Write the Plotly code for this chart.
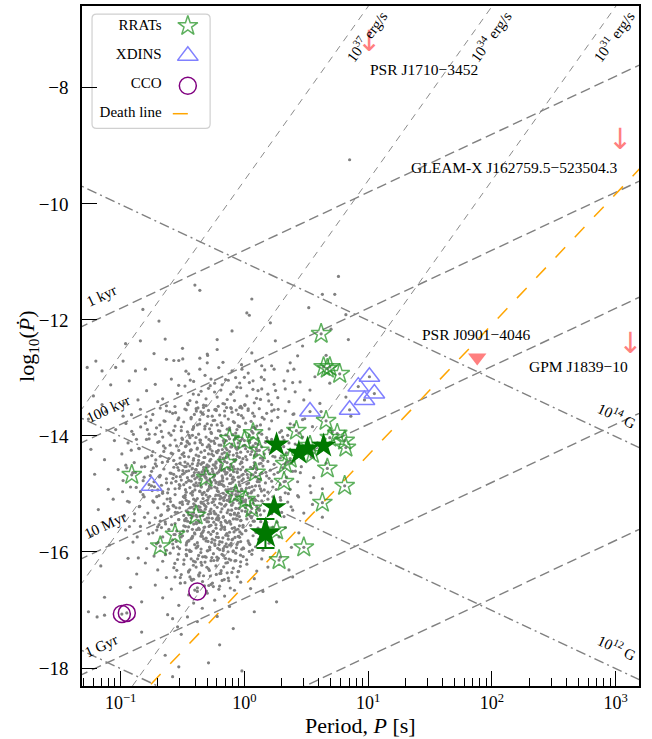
import numpy as np
import plotly.graph_objects as go

# ---------------------------------------------------------------
# Data: log10 P [s] and log10 Pdot
# ---------------------------------------------------------------
LOGP_RANGE = [-1.312, 3.188]
LOGPDOT_RANGE = [-18.31, -6.59]

# ATNF catalogue pulsars (log10 P, log10 Pdot)
atnf_points = [
    # sparse, high Pdot
    (0.85, -9.24), (-0.40, -11.40), (-0.36, -11.49), (0.76, -11.25), (0.63, -11.56), (0.73, -11.56),
    (0.06, -11.64), (0.52, -11.79), (0.02, -11.88), (0.04, -11.92), (0.82, -11.91), (0.21, -12.05),
    (-0.10, -12.19), (0.70, -12.16), (-0.22, -12.34), (0.25, -12.36), (0.84, -12.34), (0.47, -12.45),
    (0.43, -12.62), (0.06, -12.57), (0.37, -12.74), (0.14, -12.79), (0.22, -12.79), (0.24, -12.85),
    (0.40, -12.85), (0.35, -12.88), (-0.02, -12.85), (0.09, -12.71), (-0.22, -12.51), (-0.10, -12.88),
    (-0.82, -11.82), (-0.69, -12.02), (-0.84, -12.36), (-0.64, -12.33), (-0.96, -12.41), (-0.73, -12.58),
    (-0.50, -12.49), (-1.20, -12.71), (-0.98, -12.71), (-0.63, -12.68), (-0.57, -12.70), (-0.53, -12.70),
    (-0.36, -12.66), (-0.30, -12.59), (-0.30, -12.74), (-1.27, -12.82), (-1.04, -12.82), (-0.88, -12.88),
    (-0.80, -12.85), (-0.36, -12.85), (-1.15, -12.88), (0.57, -12.98), (0.66, -12.61), (-0.45, -12.93),
    # -13 .. -13.5
    (0.00, -12.99), (0.24, -13.11), (0.32, -13.05), (0.39, -13.08), (0.33, -13.19), (0.14, -13.19),
    (-0.03, -13.17), (0.04, -13.08),
    (-1.22, -13.31), (-1.08, -13.12), (-1.15, -13.46), (-0.93, -13.05), (-0.86, -13.38), (-0.79, -13.22),
    (-0.97, -13.44), (-0.72, -13.11), (-0.66, -13.36), (-0.59, -13.02), (-0.54, -13.27), (-0.63, -13.48),
    (-0.70, -13.41), (-0.48, -13.14), (-0.44, -13.39), (-0.41, -13.06), (-0.37, -13.29), (-0.33, -13.47),
    (-0.29, -13.18), (-0.27, -13.02), (-0.35, -13.23), (-0.46, -13.44), (-0.31, -13.36), (-0.24, -13.09),
    (-0.22, -13.33), (-0.19, -13.21), (-0.16, -13.45), (-0.13, -13.04), (-0.11, -13.28), (-0.08, -13.39),
    (-0.06, -13.16), (-0.03, -13.49), (-0.18, -13.12), (-0.09, -13.24), (0.02, -13.31), (0.08, -13.43),
    (0.11, -13.22), (0.13, -13.37), (0.16, -13.03), (0.19, -13.28), (0.22, -13.46), (0.07, -13.05),
    (0.27, -13.34), (0.36, -13.41), (0.41, -13.24), (0.45, -13.07), (0.48, -13.38), (0.53, -13.21),
    (0.61, -13.44), (0.69, -13.09), (0.82, -13.33),
    # -13.5 .. -14
    (-1.26, -13.71), (-1.12, -13.58), (-1.04, -13.89), (-0.98, -13.66), (-0.91, -13.92), (-0.84, -13.54),
    (-0.80, -13.78), (-0.77, -13.97), (-0.74, -13.63), (-0.71, -13.86), (-0.68, -13.52), (-0.65, -13.74),
    (-0.61, -13.95), (-0.58, -13.61), (-0.56, -13.83), (-0.53, -13.69), (-0.51, -13.91), (-0.63, -13.57),
    (-0.49, -13.76), (-0.47, -13.55), (-0.46, -13.93), (-0.43, -13.68), (-0.41, -13.84), (-0.39, -13.53),
    (-0.37, -13.97), (-0.36, -13.72), (-0.34, -13.61), (-0.32, -13.88), (-0.30, -13.79), (-0.29, -13.56),
    (-0.27, -13.94), (-0.26, -13.66), (-0.42, -13.99), (-0.38, -13.81), (-0.33, -13.51), (-0.24, -13.73),
    (-0.23, -13.54), (-0.21, -13.91), (-0.20, -13.64), (-0.18, -13.82), (-0.16, -13.57), (-0.15, -13.98),
    (-0.13, -13.71), (-0.12, -13.86), (-0.10, -13.59), (-0.08, -13.77), (-0.07, -13.95), (-0.05, -13.63),
    (-0.04, -13.84), (-0.02, -13.52), (-0.01, -13.69), (-0.19, -13.99), (-0.11, -13.51), (-0.06, -13.89),
    (-0.22, -13.81), (0.01, -13.78), (0.03, -13.56), (0.06, -13.92), (0.08, -13.66), (0.10, -13.83),
    (0.12, -13.53), (0.14, -13.97), (0.16, -13.71), (0.18, -13.61), (0.20, -13.88), (0.22, -13.74),
    (0.24, -13.55), (0.04, -13.99), (0.13, -13.81), (0.27, -13.68), (0.30, -13.91), (0.33, -13.57),
    (0.37, -13.79), (0.40, -13.62), (0.44, -13.95), (0.47, -13.72), (0.35, -13.99), (0.55, -13.84),
    (0.62, -13.58), (0.71, -13.93), (0.86, -13.66),
    # -14 .. -14.5
    (-1.24, -14.23), (-1.13, -14.41), (-1.05, -14.08), (-0.99, -14.31), (-0.94, -14.12), (-0.89, -14.46),
    (-0.85, -14.22), (-0.80, -14.38), (-0.77, -14.05), (-0.74, -14.27), (-0.72, -14.48), (-0.70, -14.11),
    (-0.68, -14.35), (-0.66, -14.02), (-0.64, -14.21), (-0.62, -14.44), (-0.60, -14.16), (-0.58, -14.31),
    (-0.56, -14.07), (-0.55, -14.49), (-0.53, -14.25), (-0.52, -14.38), (-0.51, -14.13), (-0.57, -14.42),
    (-0.50, -14.06), (-0.49, -14.29), (-0.48, -14.45), (-0.47, -14.17), (-0.45, -14.36), (-0.44, -14.03),
    (-0.43, -14.24), (-0.42, -14.48), (-0.40, -14.12), (-0.39, -14.33), (-0.38, -14.21), (-0.37, -14.42),
    (-0.36, -14.07), (-0.35, -14.28), (-0.34, -14.15), (-0.33, -14.46), (-0.32, -14.37), (-0.31, -14.02),
    (-0.30, -14.19), (-0.29, -14.31), (-0.28, -14.43), (-0.27, -14.09), (-0.26, -14.26), (-0.41, -14.39),
    (-0.46, -14.11), (-0.35, -14.49), (-0.28, -14.18), (-0.25, -14.34), (-0.24, -14.13), (-0.23, -14.47),
    (-0.22, -14.04), (-0.21, -14.25), (-0.20, -14.39), (-0.19, -14.16), (-0.18, -14.31), (-0.17, -14.08),
    (-0.16, -14.44), (-0.15, -14.21), (-0.14, -14.36), (-0.13, -14.01), (-0.12, -14.27), (-0.11, -14.49),
    (-0.10, -14.14), (-0.09, -14.33), (-0.08, -14.06), (-0.07, -14.41), (-0.06, -14.23), (-0.05, -14.12),
    (-0.04, -14.37), (-0.03, -14.28), (-0.02, -14.46), (-0.01, -14.17), (-0.14, -14.24), (-0.19, -14.45),
    (-0.07, -14.02), (-0.22, -14.29), (-0.11, -14.19), (-0.03, -14.08), (-0.17, -14.38), (0.01, -14.22),
    (0.02, -14.41), (0.04, -14.09), (0.05, -14.32), (0.07, -14.17), (0.08, -14.46), (0.10, -14.26),
    (0.11, -14.04), (0.13, -14.38), (0.14, -14.19), (0.16, -14.31), (0.17, -14.11), (0.19, -14.44),
    (0.20, -14.24), (0.22, -14.06), (0.23, -14.35), (0.24, -14.49), (0.06, -14.27), (0.12, -14.48),
    (0.18, -14.03), (0.09, -14.13), (0.15, -14.42), (0.26, -14.21), (0.29, -14.38), (0.32, -14.07),
    (0.34, -14.29), (0.38, -14.46), (0.41, -14.14), (0.44, -14.33), (0.47, -14.02), (0.36, -14.12),
    (0.54, -14.36), (0.59, -14.12), (0.66, -14.47),
    # -14.5 .. -15
    (-1.21, -14.66), (-1.10, -14.92), (-1.02, -14.58), (-0.98, -14.77), (-0.95, -14.55), (-0.92, -14.88),
    (-0.88, -14.63), (-0.84, -14.96), (-0.81, -14.71), (-0.77, -14.84), (-0.75, -14.61), (-0.73, -14.79),
    (-0.71, -14.52), (-0.70, -14.93), (-0.68, -14.68), (-0.67, -14.85), (-0.65, -14.57), (-0.63, -14.74),
    (-0.62, -14.98), (-0.60, -14.64), (-0.59, -14.81), (-0.57, -14.54), (-0.56, -14.91), (-0.55, -14.70),
    (-0.53, -14.59), (-0.52, -14.86), (-0.51, -14.76), (-0.66, -14.96), (-0.50, -14.66), (-0.49, -14.84),
    (-0.48, -14.53), (-0.47, -14.97), (-0.46, -14.72), (-0.45, -14.60), (-0.44, -14.89), (-0.43, -14.78),
    (-0.42, -14.56), (-0.41, -14.68), (-0.40, -14.93), (-0.39, -14.81), (-0.38, -14.51), (-0.37, -14.63),
    (-0.36, -14.75), (-0.35, -14.87), (-0.34, -14.99), (-0.33, -14.58), (-0.32, -14.70), (-0.31, -14.83),
    (-0.30, -14.54), (-0.29, -14.92), (-0.28, -14.65), (-0.27, -14.79), (-0.26, -14.57), (-0.44, -14.52),
    (-0.40, -14.74), (-0.36, -14.95), (-0.32, -14.61), (-0.28, -14.86), (-0.47, -14.80), (-0.42, -14.97),
    (-0.34, -14.67), (-0.30, -14.77), (-0.25, -14.71), (-0.24, -14.88), (-0.23, -14.55), (-0.22, -14.64),
    (-0.21, -14.96), (-0.20, -14.79), (-0.19, -14.52), (-0.18, -14.69), (-0.17, -14.85), (-0.16, -14.61),
    (-0.15, -14.93), (-0.14, -14.74), (-0.13, -14.56), (-0.12, -14.82), (-0.11, -14.67), (-0.10, -14.98),
    (-0.09, -14.53), (-0.08, -14.76), (-0.07, -14.89), (-0.06, -14.62), (-0.05, -14.71), (-0.04, -14.84),
    (-0.03, -14.58), (-0.02, -14.94), (-0.01, -14.66), (-0.23, -14.81), (-0.20, -14.59), (-0.17, -14.99),
    (-0.14, -14.63), (-0.11, -14.91), (-0.08, -14.57), (-0.05, -14.97), (-0.02, -14.77), (-0.18, -14.77),
    (-0.09, -14.71), (-0.24, -14.51), (0.01, -14.61), (0.02, -14.83), (0.03, -14.72), (0.05, -14.54),
    (0.06, -14.96), (0.07, -14.67), (0.09, -14.86), (0.10, -14.58), (0.11, -14.75), (0.13, -14.91),
    (0.14, -14.64), (0.15, -14.52), (0.17, -14.81), (0.18, -14.69), (0.19, -14.97), (0.21, -14.59),
    (0.22, -14.78), (0.23, -14.88), (0.24, -14.66), (0.04, -14.89), (0.08, -14.51), (0.12, -14.79),
    (0.16, -14.93), (0.20, -14.73), (0.03, -14.99), (0.27, -14.63), (0.29, -14.84), (0.31, -14.55),
    (0.34, -14.71), (0.37, -14.92), (0.39, -14.61), (0.43, -14.79), (0.46, -14.53), (0.33, -14.98),
    (0.56, -14.72), (0.63, -14.91), (0.53, -14.86),
    # -15 .. -15.5
    (-1.18, -15.27), (-1.06, -15.09), (-0.97, -15.38), (-0.93, -15.14), (-0.89, -15.46), (-0.85, -15.22),
    (-0.81, -15.05), (-0.78, -15.33), (-0.74, -15.12), (-0.72, -15.41), (-0.70, -15.24), (-0.69, -15.03),
    (-0.67, -15.36), (-0.65, -15.17), (-0.64, -15.48), (-0.62, -15.28), (-0.60, -15.08), (-0.59, -15.39),
    (-0.57, -15.21), (-0.56, -15.01), (-0.54, -15.32), (-0.53, -15.44), (-0.52, -15.15), (-0.61, -15.26),
    (-0.68, -15.47), (-0.50, -15.18), (-0.49, -15.37), (-0.48, -15.06), (-0.47, -15.29), (-0.46, -15.47),
    (-0.45, -15.13), (-0.44, -15.24), (-0.43, -15.41), (-0.42, -15.02), (-0.41, -15.33), (-0.40, -15.19),
    (-0.39, -15.49), (-0.38, -15.08), (-0.37, -15.27), (-0.36, -15.38), (-0.35, -15.14), (-0.34, -15.01),
    (-0.33, -15.31), (-0.32, -15.44), (-0.31, -15.22), (-0.30, -15.11), (-0.29, -15.35), (-0.28, -15.04),
    (-0.27, -15.26), (-0.26, -15.42), (-0.45, -15.36), (-0.41, -15.09), (-0.37, -15.46), (-0.33, -15.17),
    (-0.29, -15.48), (-0.47, -15.11), (-0.35, -15.29), (-0.25, -15.13), (-0.24, -15.34), (-0.23, -15.02),
    (-0.22, -15.23), (-0.21, -15.45), (-0.20, -15.16), (-0.19, -15.31), (-0.18, -15.07), (-0.17, -15.39),
    (-0.16, -15.21), (-0.15, -15.48), (-0.14, -15.11), (-0.13, -15.28), (-0.12, -15.04), (-0.11, -15.36),
    (-0.10, -15.19), (-0.09, -15.43), (-0.08, -15.09), (-0.07, -15.25), (-0.06, -15.37), (-0.05, -15.03),
    (-0.04, -15.16), (-0.03, -15.46), (-0.02, -15.29), (-0.01, -15.12), (-0.22, -15.41), (-0.19, -15.49),
    (-0.15, -15.02), (-0.12, -15.47), (-0.08, -15.33), (-0.04, -15.39), (-0.24, -15.19), (-0.10, -15.01),
    (-0.02, -15.06), (0.01, -15.24), (0.02, -15.43), (0.04, -15.07), (0.05, -15.31), (0.07, -15.16),
    (0.08, -15.47), (0.10, -15.22), (0.11, -15.03), (0.13, -15.36), (0.14, -15.12), (0.16, -15.29),
    (0.17, -15.44), (0.19, -15.09), (0.20, -15.19), (0.22, -15.34), (0.23, -15.05), (0.06, -15.39),
    (0.12, -15.26), (0.18, -15.49), (0.09, -15.11), (0.26, -15.21), (0.29, -15.06), (0.32, -15.39),
    (0.35, -15.14), (0.39, -15.28), (0.43, -15.03), (0.48, -15.33), (0.55, -15.18), (0.63, -15.40),
    # -15.5 .. -16
    (-1.23, -15.71), (-1.09, -15.88), (-0.96, -15.62), (-0.90, -15.83), (-0.84, -15.56), (-0.79, -15.94),
    (-0.74, -15.67), (-0.71, -15.86), (-0.69, -15.53), (-0.66, -15.74), (-0.63, -15.97), (-0.61, -15.61),
    (-0.58, -15.79), (-0.56, -15.51), (-0.54, -15.91), (-0.52, -15.68), (-0.67, -15.58), (-0.50, -15.72),
    (-0.49, -15.55), (-0.47, -15.88), (-0.46, -15.64), (-0.44, -15.99), (-0.43, -15.77), (-0.41, -15.52),
    (-0.40, -15.69), (-0.38, -15.84), (-0.37, -15.59), (-0.35, -15.95), (-0.34, -15.73), (-0.32, -15.57),
    (-0.31, -15.81), (-0.29, -15.66), (-0.28, -15.92), (-0.27, -15.54), (-0.26, -15.78), (-0.45, -15.81),
    (-0.39, -15.93), (-0.33, -15.63), (-0.30, -15.98), (-0.42, -15.61), (-0.25, -15.64), (-0.24, -15.86),
    (-0.23, -15.53), (-0.21, -15.75), (-0.20, -15.96), (-0.19, -15.61), (-0.18, -15.83), (-0.16, -15.57),
    (-0.15, -15.71), (-0.14, -15.91), (-0.12, -15.66), (-0.11, -15.52), (-0.10, -15.79), (-0.09, -15.98),
    (-0.07, -15.62), (-0.06, -15.87), (-0.05, -15.73), (-0.04, -15.55), (-0.02, -15.69), (-0.01, -15.93),
    (-0.22, -15.68), (-0.17, -15.94), (-0.13, -15.78), (-0.08, -15.58), (-0.03, -15.82), (-0.12, -15.88),
    (0.01, -15.63), (0.03, -15.81), (0.05, -15.54), (0.07, -15.72), (0.09, -15.91), (0.11, -15.59),
    (0.13, -15.76), (0.15, -15.97), (0.18, -15.66), (0.20, -15.85), (0.23, -15.57), (0.04, -15.99),
    (0.16, -15.52), (0.28, -15.74), (0.33, -15.58), (0.38, -15.92), (0.44, -15.67),
    # -16 .. -16.5
    (-1.16, -16.24), (-0.94, -16.11), (-0.87, -16.38), (-0.80, -16.19), (-0.73, -16.07), (-0.70, -16.31),
    (-0.66, -16.16), (-0.63, -16.44), (-0.60, -16.02), (-0.57, -16.27), (-0.54, -16.13), (-0.51, -16.39),
    (-0.49, -16.21), (-0.47, -16.04), (-0.45, -16.33), (-0.43, -16.12), (-0.41, -16.47), (-0.39, -16.26),
    (-0.37, -16.06), (-0.35, -16.18), (-0.33, -16.41), (-0.31, -16.09), (-0.29, -16.29), (-0.27, -16.15),
    (-0.44, -16.43), (-0.36, -16.36), (-0.25, -16.03), (-0.23, -16.24), (-0.21, -16.11), (-0.19, -16.37),
    (-0.17, -16.06), (-0.15, -16.19), (-0.13, -16.45), (-0.11, -16.14), (-0.09, -16.28), (-0.07, -16.02),
    (-0.05, -16.34), (-0.03, -16.17), (-0.18, -16.49), (-0.01, -16.08), (0.02, -16.21), (0.06, -16.04),
    (0.10, -16.33), (0.14, -16.12), (0.19, -16.26), (0.08, -16.46), (0.29, -16.09), (0.36, -16.31),
    (0.39, -16.43),
    # -16.5 .. -17
    (-1.13, -16.78), (-0.92, -16.61), (-0.83, -16.86), (-0.72, -16.57), (-0.66, -16.79), (-0.59, -16.64),
    (-0.53, -16.92), (-0.48, -16.53), (-0.45, -16.74), (-0.41, -16.88), (-0.38, -16.62), (-0.34, -16.97),
    (-0.30, -16.71), (-0.27, -16.56), (-0.24, -16.83), (-0.20, -16.59), (-0.16, -16.76), (-0.12, -16.94),
    (-0.08, -16.66), (-0.03, -16.52), (0.05, -16.63), (0.15, -16.68), (0.26, -16.86),
    # below -17
    (-1.26, -17.03), (-1.19, -17.12), (-1.13, -17.09), (-0.58, -17.15), (-0.54, -17.29), (-0.83, -17.38),
    (-0.46, -17.12), (-0.38, -17.20), (-0.62, -17.08), (-0.51, -17.42), (-0.22, -17.11), (-0.09, -17.32),
    (0.08, -17.03), (-0.64, -17.78), (-0.53, -17.98), (-0.58, -18.15), (-0.20, -17.60), (-0.29, -17.91),
    (-0.02, -18.05),
    # dense core
    (-0.412, -13.862), (-0.287, -14.153), (-0.198, -13.917), (-0.354, -14.071), (-0.093, -13.978),
    (0.043, -14.112), (-0.476, -14.184), (-0.233, -14.036), (-0.139, -13.884), (0.117, -13.947),
    (-0.318, -13.831), (-0.052, -14.193), (-0.571, -13.908), (-0.382, -14.226), (0.186, -14.081),
    (-0.164, -14.118), (-0.266, -13.957), (0.072, -13.853), (-0.447, -13.992), (-0.017, -14.047),
    (-0.503, -14.317), (-0.341, -14.462), (-0.227, -14.271), (-0.118, -14.538), (0.011, -14.356),
    (-0.395, -14.579), (-0.272, -14.404), (-0.061, -14.297), (0.134, -14.471), (-0.183, -14.589),
    (-0.432, -14.243), (-0.307, -14.527), (0.067, -14.563), (-0.148, -14.372), (-0.024, -14.446),
    (-0.611, -14.392), (-0.369, -14.349), (0.208, -14.286), (-0.252, -14.498), (-0.087, -14.412),
    (-0.539, -14.544), (0.098, -14.318), (-0.198, -14.427), (-0.458, -14.481),
    (-0.487, -14.643), (-0.362, -14.812), (-0.241, -14.687), (-0.131, -14.924), (-0.009, -14.741),
    (0.121, -14.862), (-0.418, -14.958), (-0.296, -14.603), (-0.174, -14.776), (-0.057, -14.631),
    (0.054, -14.983), (-0.526, -14.838), (-0.383, -14.712), (-0.268, -14.896), (-0.152, -14.658),
    (-0.036, -14.857), (0.089, -14.704), (-0.447, -14.769), (-0.325, -14.974), (-0.207, -14.618),
    (-0.094, -14.793), (0.173, -14.627), (-0.577, -14.731), (-0.348, -14.882), (-0.219, -14.943),
    (-0.113, -14.682), (0.016, -14.901), (-0.469, -14.612), (-0.283, -14.761), (-0.069, -14.949),
    (-0.399, -14.861), (-0.186, -14.835), (0.138, -14.951), (-0.614, -14.917), (-0.247, -14.652),
    (-0.021, -14.678),
    (-0.493, -15.047), (-0.371, -15.213), (-0.253, -15.087), (-0.139, -15.322), (-0.017, -15.141),
    (0.108, -15.263), (-0.428, -15.357), (-0.309, -15.018), (-0.186, -15.176), (-0.066, -15.034),
    (0.046, -15.381), (-0.552, -15.238), (-0.393, -15.112), (-0.278, -15.296), (-0.161, -15.059),
    (-0.043, -15.255), (0.079, -15.107), (-0.457, -15.169), (-0.336, -15.374), (-0.213, -15.022),
    (-0.104, -15.193), (0.162, -15.028), (-0.597, -15.131), (-0.354, -15.284), (-0.232, -15.343),
    (-0.121, -15.082), (0.009, -15.302), (-0.478, -15.021), (-0.293, -15.161), (-0.082, -15.349),
    (-0.407, -15.261),
    (-0.482, -15.447), (-0.364, -15.611), (-0.247, -15.487), (-0.132, -15.721), (-0.011, -15.541),
    (0.094, -15.663), (-0.421, -15.757), (-0.302, -15.418), (-0.179, -15.576), (-0.058, -15.434),
    (-0.547, -15.638), (-0.387, -15.512), (-0.271, -15.696), (-0.155, -15.459), (-0.037, -15.655),
    (-0.451, -15.569), (-0.329, -15.774), (-0.206, -15.422), (-0.098, -15.593), (-0.588, -15.531),
    (-0.347, -15.684), (-0.226, -15.743), (-0.117, -15.482), (-0.471, -15.421), (-0.286, -15.561),
    (-0.076, -15.749), (0.132, -15.478),
    (-0.467, -15.847), (-0.352, -16.011), (-0.238, -15.887), (-0.124, -16.121), (-0.006, -15.941),
    (-0.412, -16.157), (-0.294, -15.818), (-0.171, -15.976), (-0.051, -15.834), (-0.532, -16.038),
    (-0.379, -15.912), (-0.263, -16.096), (-0.147, -15.859), (-0.031, -16.055), (-0.443, -15.969),
    (-0.318, -16.174), (-0.199, -15.822), (-0.091, -15.993), (-0.574, -15.931), (-0.337, -16.084),
    (-0.219, -16.143), (-0.109, -15.882), (-0.461, -15.821), (-0.279, -15.961), (-0.069, -16.149),
    (0.044, -15.873),
    (-0.452, -16.347), (-0.338, -16.511), (-0.227, -16.387), (-0.114, -16.621), (-0.401, -16.657),
    (-0.283, -16.318), (-0.163, -16.476), (-0.047, -16.334), (-0.517, -16.538), (-0.367, -16.412),
    (-0.251, -16.596), (-0.139, -16.359), (-0.429, -16.469), (-0.307, -16.674), (-0.188, -16.322),
    (-0.561, -16.431), (-0.323, -16.584), (-0.206, -16.643),
    # more of the core
    (-0.463, -14.091), (-0.327, -14.372), (-0.205, -14.158), (-0.078, -14.437), (0.056, -14.205),
    (-0.519, -14.468), (-0.391, -14.027), (-0.264, -14.314), (-0.146, -14.083), (-0.012, -14.392),
    (0.112, -14.147), (-0.437, -14.256), (-0.301, -14.498), (-0.178, -14.234), (-0.049, -14.019),
    (0.081, -14.341), (-0.548, -14.172), (-0.412, -14.419), (-0.287, -14.061), (-0.161, -14.287),
    (-0.034, -14.481), (0.097, -14.223), (-0.486, -14.354), (-0.356, -14.113), (-0.229, -14.445),
    (-0.102, -14.188), (0.027, -14.269), (-0.591, -14.297), (-0.445, -14.138), (-0.321, -14.253),
    (-0.196, -14.364), (-0.069, -14.207), (0.148, -14.389), (-0.373, -14.471), (-0.248, -14.089),
    (-0.124, -14.326), (0.005, -14.163), (-0.504, -14.038), (-0.277, -14.227), (-0.057, -14.352),
    (-0.471, -14.527), (-0.352, -14.684), (-0.231, -14.552), (-0.109, -14.817), (0.013, -14.596),
    (0.129, -14.742), (-0.526, -14.903), (-0.404, -14.631), (-0.283, -14.879), (-0.162, -14.574),
    (-0.041, -14.708), (0.078, -14.933), (-0.451, -14.769), (-0.329, -14.541), (-0.207, -14.836),
    (-0.087, -14.617), (0.034, -14.812), (-0.571, -14.662), (-0.433, -14.988), (-0.311, -14.727),
    (-0.189, -14.508), (-0.067, -14.893), (0.053, -14.669), (-0.497, -14.598), (-0.378, -14.856),
    (-0.256, -14.611), (-0.134, -14.968), (-0.013, -14.537), (0.104, -14.786), (-0.422, -14.692),
    (-0.298, -14.943), (-0.176, -14.719), (-0.054, -14.571), (-0.553, -14.782), (-0.389, -14.581),
    (-0.267, -14.799), (-0.145, -14.647), (-0.023, -14.918), (0.091, -14.552), (-0.476, -14.927),
    (-0.343, -14.621), (-0.222, -14.901), (-0.098, -14.742), (0.023, -14.663), (-0.409, -14.841),
    (-0.287, -14.522), (-0.165, -14.867), (-0.044, -14.796), (-0.518, -14.703), (-0.361, -14.957),
    (-0.241, -14.763), (-0.118, -14.589), (0.062, -14.873), (-0.316, -14.662), (-0.193, -14.551),
    (-0.482, -15.064), (-0.358, -15.227), (-0.236, -15.089), (-0.114, -15.351), (0.008, -15.133),
    (0.121, -15.282), (-0.531, -15.442), (-0.409, -15.171), (-0.288, -15.413), (-0.166, -15.112),
    (-0.046, -15.248), (0.071, -15.469), (-0.457, -15.307), (-0.334, -15.079), (-0.212, -15.372),
    (-0.091, -15.154), (0.029, -15.348), (-0.576, -15.198), (-0.438, -15.489), (-0.316, -15.263),
    (-0.194, -15.041), (-0.071, -15.428), (0.048, -15.207), (-0.502, -15.136), (-0.383, -15.394),
    (-0.261, -15.147), (-0.139, -15.496), (-0.018, -15.073), (0.097, -15.322), (-0.426, -15.229),
    (-0.302, -15.478), (-0.181, -15.256), (-0.059, -15.109), (-0.558, -15.317), (-0.394, -15.118),
    (-0.272, -15.336), (-0.149, -15.183), (-0.028, -15.453), (0.084, -15.088), (-0.481, -15.461),
    (-0.348, -15.157), (-0.227, -15.439), (-0.103, -15.279), (0.018, -15.196), (-0.414, -15.378),
    (-0.292, -15.058), (-0.171, -15.402), (-0.049, -15.331), (-0.523, -15.241), (-0.366, -15.492),
    (-0.246, -15.301), (-0.123, -15.127), (0.057, -15.412), (-0.321, -15.196), (-0.198, -15.087),
    (-0.476, -15.563), (-0.351, -15.728), (-0.229, -15.589), (-0.107, -15.852), (0.012, -15.633),
    (0.115, -15.781), (-0.524, -15.941), (-0.403, -15.671), (-0.281, -15.914), (-0.159, -15.612),
    (-0.039, -15.748), (0.064, -15.967), (-0.449, -15.806), (-0.327, -15.578), (-0.205, -15.873),
    (-0.084, -15.654), (0.036, -15.847), (-0.569, -15.699), (-0.431, -15.988), (-0.309, -15.762),
    (-0.187, -15.541), (-0.064, -15.927), (-0.495, -15.636), (-0.376, -15.894), (-0.254, -15.647),
    (-0.132, -15.996), (-0.011, -15.573), (-0.419, -15.729), (-0.295, -15.979), (-0.174, -15.756),
    (-0.052, -15.608), (-0.551, -15.819), (-0.386, -15.617), (-0.265, -15.834), (-0.142, -15.683),
    (-0.021, -15.952), (-0.469, -15.962), (-0.337, -15.659), (-0.215, -15.937), (-0.094, -15.778),
    (-0.402, -15.873), (-0.281, -15.551), (-0.158, -15.902), (-0.511, -15.742), (-0.239, -15.798),
    (-0.467, -16.063), (-0.344, -16.228), (-0.222, -16.089), (-0.101, -16.352), (0.018, -16.134),
    (-0.518, -16.441), (-0.396, -16.171), (-0.275, -16.414), (-0.153, -16.112), (-0.033, -16.248),
    (-0.441, -16.307), (-0.319, -16.079), (-0.198, -16.372), (-0.077, -16.154), (-0.562, -16.198),
    (-0.424, -16.489), (-0.303, -16.263), (-0.181, -16.041), (-0.058, -16.428), (-0.488, -16.136),
    (-0.369, -16.394), (-0.247, -16.147), (-0.126, -16.496), (-0.412, -16.229), (-0.288, -16.578),
    (-0.167, -16.256), (-0.546, -16.317), (-0.378, -16.118), (-0.258, -16.536), (-0.136, -16.183),
    (-0.455, -13.463), (-0.332, -13.627), (-0.211, -13.489), (-0.089, -13.752), (0.031, -13.533),
    (0.144, -13.681), (-0.509, -13.842), (-0.388, -13.571), (-0.266, -13.813), (-0.144, -13.512),
    (-0.024, -13.648), (0.088, -13.869), (-0.431, -13.706), (-0.309, -13.478), (-0.188, -13.773),
    (-0.066, -13.554), (0.054, -13.748), (-0.556, -13.599), (-0.418, -13.888), (-0.295, -13.662),
    (-0.173, -13.441), (-0.051, -13.827), (0.067, -13.607), (-0.481, -13.536), (-0.362, -13.794),
    (-0.239, -13.547), (-0.118, -13.896), (0.003, -13.473), (-0.404, -13.629), (-0.281, -13.878),
    (-0.159, -13.656), (-0.037, -13.508), (-0.537, -13.719), (-0.375, -13.517), (-0.252, -13.734),
    # left flank
    (-0.912, -13.634), (-0.853, -14.213), (-0.784, -13.891), (-0.736, -14.552), (-0.689, -14.097),
    (-0.642, -13.748), (-0.618, -15.214), (-0.874, -14.887), (-0.807, -15.402), (-0.761, -14.683),
    (-0.708, -15.047), (-0.663, -14.456), (-0.944, -15.126), (-0.831, -14.534), (-0.773, -15.688),
    (-0.721, -13.971), (-0.676, -15.373), (-0.629, -14.808), (-0.897, -13.972), (-0.819, -15.013),
    (-0.748, -14.338), (-0.701, -15.566), (-0.654, -14.172), (-0.958, -14.504), (-0.866, -15.741),
    (-0.791, -14.061), (-0.727, -14.876), (-0.683, -13.812), (-0.637, -15.518), (-0.591, -14.644),
    (-0.957, -13.784), (-0.902, -14.633), (-0.846, -15.214), (-0.793, -13.669), (-0.745, -14.941),
    (-0.697, -15.836), (-0.651, -14.267), (-0.603, -13.583), (-0.929, -15.561), (-0.872, -14.058),
    (-0.818, -14.771), (-0.766, -15.498), (-0.716, -14.413), (-0.671, -13.923), (-0.624, -15.087),
    (-0.579, -15.863), (-0.984, -14.962), (-0.887, -15.342), (-0.838, -13.845), (-0.781, -14.362),
    (-0.732, -15.142), (-0.686, -14.707), (-0.638, -16.047), (-0.593, -13.987), (-0.914, -14.246),
    (-0.857, -16.103), (-0.805, -14.528), (-0.756, -13.729), (-0.708, -15.623), (-0.661, -14.989),
    # right flank
    (0.273, -13.541), (0.318, -14.186), (0.364, -13.879), (0.412, -14.607), (0.257, -14.923),
    (0.301, -15.318), (0.346, -14.452), (0.393, -13.627), (0.438, -15.052), (0.286, -13.938),
    (0.331, -14.781), (0.377, -15.221), (0.423, -14.268), (0.264, -15.487), (0.309, -14.019),
    (0.355, -14.996), (0.401, -13.812), (0.452, -14.633), (0.247, -14.362), (0.293, -15.107),
    (0.512, -14.196), (0.487, -13.704), (0.537, -14.978),
    # upper middle
    (-0.531, -13.127), (-0.472, -12.884), (-0.386, -13.418), (-0.318, -12.956), (-0.241, -13.243),
    (-0.173, -12.732), (-0.106, -13.526), (-0.038, -13.088), (0.031, -12.917), (0.098, -13.352),
    (0.164, -12.863), (0.221, -13.571), (-0.561, -13.493), (-0.437, -13.038), (-0.352, -13.587),
    (-0.276, -13.134), (-0.207, -12.821), (-0.139, -13.372), (-0.071, -12.994), (0.004, -13.458),
    (0.069, -13.197), (0.137, -12.988), (0.197, -13.396), (-0.498, -12.673), (-0.413, -13.278),
    (-0.297, -12.613), (-0.227, -13.563), (-0.152, -13.031), (-0.023, -12.772), (0.252, -13.218),
]
atnf_logp = [p for p, _ in atnf_points]
atnf_logpdot = [d for _, d in atnf_points]

# RRATs (open stars)
rrat_logp = [-0.91, 0.62, 0.64, 0.67, 0.69, 0.77, 0.66, 0.42, 0.07, -0.12, 0.00, 0.75, 0.69, 0.81,
             0.82, 0.12, 0.53, 0.55, -0.14, 0.09, 0.37, 0.33, 0.67, -0.31, 0.32, 0.81, -0.07, 0.01,
             0.06, 0.63, -0.39, -0.56, -0.68, 0.26, 0.48, 0.28]
rrat_logpdot = [-14.67, -12.24, -12.81, -12.84, -12.81, -12.93, -13.74, -13.91, -13.95, -14.05, -14.08,
                -13.96, -14.03, -14.08, -14.20, -14.25, -14.17, -14.31, -14.46, -14.63, -14.39, -14.48,
                -14.56, -14.72, -14.79, -14.86, -15.01, -15.10, -15.25, -15.15, -15.37, -15.70, -15.90,
                -15.63, -15.92, -16.14]

# RRATs with new timing solutions (filled stars)
rrat_new_logp = [0.26, 0.44, 0.51, 0.64, 0.24]
rrat_new_logpdot = [-14.15, -14.29, -14.22, -14.17, -15.23]
rrat_big_logp = [0.17]
rrat_big_logpdot = [-15.68]
rrat_big_err = [0.25]

# XDINS
xdins_logp = [-0.75, 0.53, 0.85, 0.92, 1.01, 0.97, 1.05]
xdins_logpdot = [-14.86, -13.58, -13.55, -13.15, -12.98, -13.38, -13.27]

# Central compact objects
cco_logp = [-0.99, -0.95, -0.38]
cco_logpdot = [-17.07, -17.05, -16.68]

# Long-period radio transients with Pdot upper limits (name, log10 P, log10 Pdot)
lpt_limits = [("PSR J1710\u22123452", 1.008, -7.24),
              ("GLEAM-X J162759.5\u2212523504.3", 3.035, -8.93),
              ("GPM J1839\u221210", 3.118, -12.45)]
j0901 = ("PSR J0901\u22124046", 1.881, -12.65)

# Reference lines
AGE_YR = [1e3, 1e5, 1e7, 1e9, 1e11]
B_FIELD = [1e10, 1e12, 1e14]
EDOT = [1e31, 1e34, 1e37]
DEATH_SLOPE, DEATH_ICPT = 2.25, -16.58

YEAR = 3.156e7
I_MOM = 1e45

SERIF = "Liberation Serif"
GRAY = "#808080"
PINK = "#FF7F7F"
STAR_EDGE = "rgba(40,150,40,0.75)"

fig = go.Figure()
lp = np.array([-2.0, 4.0])


def add_line(y, color, width, dash):
    fig.add_trace(go.Scatter(x=10 ** lp, y=y, mode="lines", showlegend=False, hoverinfo="skip",
                             line=dict(color=color, width=width, dash=dash)))


for e in EDOT:
    add_line(np.log10(e / (4 * np.pi ** 2 * I_MOM)) + 3 * lp, "#8c8c8c", 1.0, "7px,6px")
for tau in AGE_YR:
    add_line(lp - np.log10(2 * tau * YEAR), GRAY, 1.4, "10px,5px")
for b in B_FIELD:
    add_line(2 * np.log10(b / 3.2e19) - lp, GRAY, 1.4, "10px,4px,2px,4px")
add_line(DEATH_SLOPE * lp + DEATH_ICPT, "#FFA500", 1.5, "14px,14px")

# catalogue dots (every object also appears in the catalogue)
all_p = atnf_logp + rrat_logp + xdins_logp + cco_logp
all_pd = atnf_logpdot + rrat_logpdot + xdins_logpdot + cco_logpdot
fig.add_trace(go.Scatter(x=10 ** np.array(all_p), y=all_pd, mode="markers", showlegend=False,
                         marker=dict(size=3.2, color=GRAY, line=dict(width=0))))

fig.add_trace(go.Scatter(x=10 ** np.array(xdins_logp), y=xdins_logpdot, mode="markers", showlegend=False,
                         marker=dict(symbol="triangle-up-open", size=18, color="#8080FF",
                                     line=dict(width=1.5))))
fig.add_trace(go.Scatter(x=10 ** np.array(cco_logp), y=cco_logpdot, mode="markers", showlegend=False,
                         marker=dict(symbol="circle-open", size=17, color="#800080", line=dict(width=1.5))))
fig.add_trace(go.Scatter(x=10 ** np.array(rrat_logp), y=rrat_logpdot, mode="markers", showlegend=False,
                         marker=dict(symbol="star-open", size=15, color=STAR_EDGE, line=dict(width=1.5))))
fig.add_trace(go.Scatter(x=10 ** np.array(rrat_new_logp), y=rrat_new_logpdot, mode="markers",
                         showlegend=False,
                         marker=dict(symbol="star", size=19, color="#007800", line=dict(width=0))))
fig.add_trace(go.Scatter(x=10 ** np.array(rrat_big_logp), y=rrat_big_logpdot, mode="markers",
                         showlegend=False,
                         error_y=dict(type="data", array=rrat_big_err, color="#007800", thickness=2, width=9),
                         marker=dict(symbol="star", size=24, color="#007800", line=dict(width=0))))
fig.add_trace(go.Scatter(x=[10 ** j0901[1]], y=[j0901[2]], mode="markers", showlegend=False,
                         marker=dict(symbol="triangle-down", size=16, color=PINK, line=dict(width=0))))

# upper-limit arrows
fig.add_trace(go.Scatter(x=[10 ** p for _, p, _ in lpt_limits], y=[d for _, _, d in lpt_limits],
                         mode="text", text=["\u2193"] * len(lpt_limits), showlegend=False,
                         textposition="middle center",
                         textfont=dict(family="DejaVu Sans", size=29, color=PINK)))

ann = []
# source names
name_pos = {"PSR J1710\u22123452": (1.453, -7.69),
            "GLEAM-X J162759.5\u2212523504.3": (2.184, -9.375),
            "GPM J1839\u221210": (2.70, -12.81),
            "PSR J0901\u22124046": (1.869, -12.26)}
for name, (x, y) in name_pos.items():
    ann.append(dict(x=x, y=y, xref="x", yref="y", text=name, showarrow=False,
                    font=dict(family=SERIF, size=15.5, color="black")))

# line labels
line_labels = [("1 kyr", -1.158, -11.59, -25), ("100 kyr", -1.10, -13.53, -25),
               ("10 Myr", -1.12, -15.54, -25), ("1 Gyr", -1.158, -17.62, -25),
               ("10<sup>14</sup> G", 3.012, -13.64, 25), ("10<sup>12</sup> G", 3.012, -17.64, 25),
               ("10<sup>37</sup> erg/s", 0.984, -7.107, -54), ("10<sup>34</sup> erg/s", 1.986, -7.107, -54),
               ("10<sup>31</sup> erg/s", 2.98, -7.107, -54)]
for txt, x, y, ang in line_labels:
    ann.append(dict(x=x, y=y, xref="x", yref="y", text=txt, showarrow=False, textangle=ang,
                    font=dict(family=SERIF, size=15, color="black")))

# axis titles
ann.append(dict(x=-0.097, y=0.5, xref="paper", yref="paper", text="log<sub>10</sub>(<i>\u1E56</i>)",
                showarrow=False, textangle=-90, xanchor="center", yanchor="middle",
                font=dict(family=SERIF, size=22, color="black")))
ann.append(dict(x=0.5, y=-0.058, xref="paper", yref="paper", text="Period, <i>P</i> [s]",
                showarrow=False, xanchor="center", yanchor="middle",
                font=dict(family=SERIF, size=22, color="black")))

# legend box, glyphs and labels (labels sit to the left of the glyphs)
x0, x1, y0, y1, rx, ry = 0.018, 0.230, 0.820, 0.988, 0.008, 0.0065
box = (f"M {x0 + rx},{y0} L {x1 - rx},{y0} Q {x1},{y0} {x1},{y0 + ry} L {x1},{y1 - ry} "
       f"Q {x1},{y1} {x1 - rx},{y1} L {x0 + rx},{y1} Q {x0},{y1} {x0},{y1 - ry} "
       f"L {x0},{y0 + ry} Q {x0},{y0} {x0 + rx},{y0} Z")

leg_labels = ["RRATs", "XDINS", "CCO", "Death line"]
leg_label_y = [0.9707, 0.928, 0.8856, 0.8416]
fig.add_trace(go.Scatter(x=[0.143] * len(leg_labels), y=leg_label_y, xaxis="x2", yaxis="y2",
                         mode="text", text=leg_labels, textposition="middle left", showlegend=False,
                         textfont=dict(family=SERIF, size=15, color="black")))
fig.add_trace(go.Scatter(x=[0.190], y=[0.9707], xaxis="x2", yaxis="y2", mode="markers", showlegend=False,
                         marker=dict(symbol="star-open", size=15, color=STAR_EDGE, line=dict(width=1.5))))
fig.add_trace(go.Scatter(x=[0.190], y=[0.9267], xaxis="x2", yaxis="y2", mode="markers", showlegend=False,
                         marker=dict(symbol="triangle-up-open", size=18, color="#8080FF",
                                     line=dict(width=1.5))))
fig.add_trace(go.Scatter(x=[0.190], y=[0.8827], xaxis="x2", yaxis="y2", mode="markers", showlegend=False,
                         marker=dict(symbol="circle-open", size=17, color="#800080", line=dict(width=1.5))))
fig.add_trace(go.Scatter(x=[0.163, 0.190], y=[0.8416, 0.8416], xaxis="x2", yaxis="y2", mode="lines",
                         showlegend=False, line=dict(color="#FFA500", width=1.5)))

minor_vals = [m * 10.0 ** k for k in range(-2, 4) for m in range(2, 10)]

fig.update_layout(
    width=652, height=739,
    margin=dict(l=82, r=13, t=4, b=53),
    plot_bgcolor="white", paper_bgcolor="white",
    font=dict(family=SERIF, color="black"),
    showlegend=False,
    annotations=ann,
    shapes=[dict(type="path", path=box, xref="paper", yref="paper",
                 fillcolor="white", line=dict(color="#d0d0d0", width=1.2), layer="below")],
    xaxis=dict(type="log", range=LOGP_RANGE, showgrid=False, zeroline=False,
               showline=True, linecolor="black", linewidth=1.5, mirror=True,
               ticks="inside", ticklen=15, tickwidth=1.3, tickcolor="black",
               tickvals=[0.1, 1, 10, 100, 1000],
               ticktext=["10<sup>\u22121</sup>", "10<sup>0</sup>", "10<sup>1</sup>", "10<sup>2</sup>",
                         "10<sup>3</sup>"],
               tickfont=dict(family=SERIF, size=18),
               minor=dict(ticks="inside", ticklen=8, tickwidth=1.0, tickcolor="black",
                          tickvals=minor_vals, showgrid=False)),
    yaxis=dict(range=LOGPDOT_RANGE, showgrid=False, zeroline=False,
               showline=True, linecolor="black", linewidth=1.5, mirror=True,
               ticks="inside", ticklen=15, tickwidth=1.3, tickcolor="black",
               tickvals=[-8, -10, -12, -14, -16, -18], ticklabelstandoff=8,
               tickfont=dict(family=SERIF, size=19)),
    xaxis2=dict(overlaying="x", range=[0, 1], visible=False, fixedrange=True),
    yaxis2=dict(overlaying="y", range=[0, 1], visible=False, fixedrange=True),
)

fig.write_html("out.html")
